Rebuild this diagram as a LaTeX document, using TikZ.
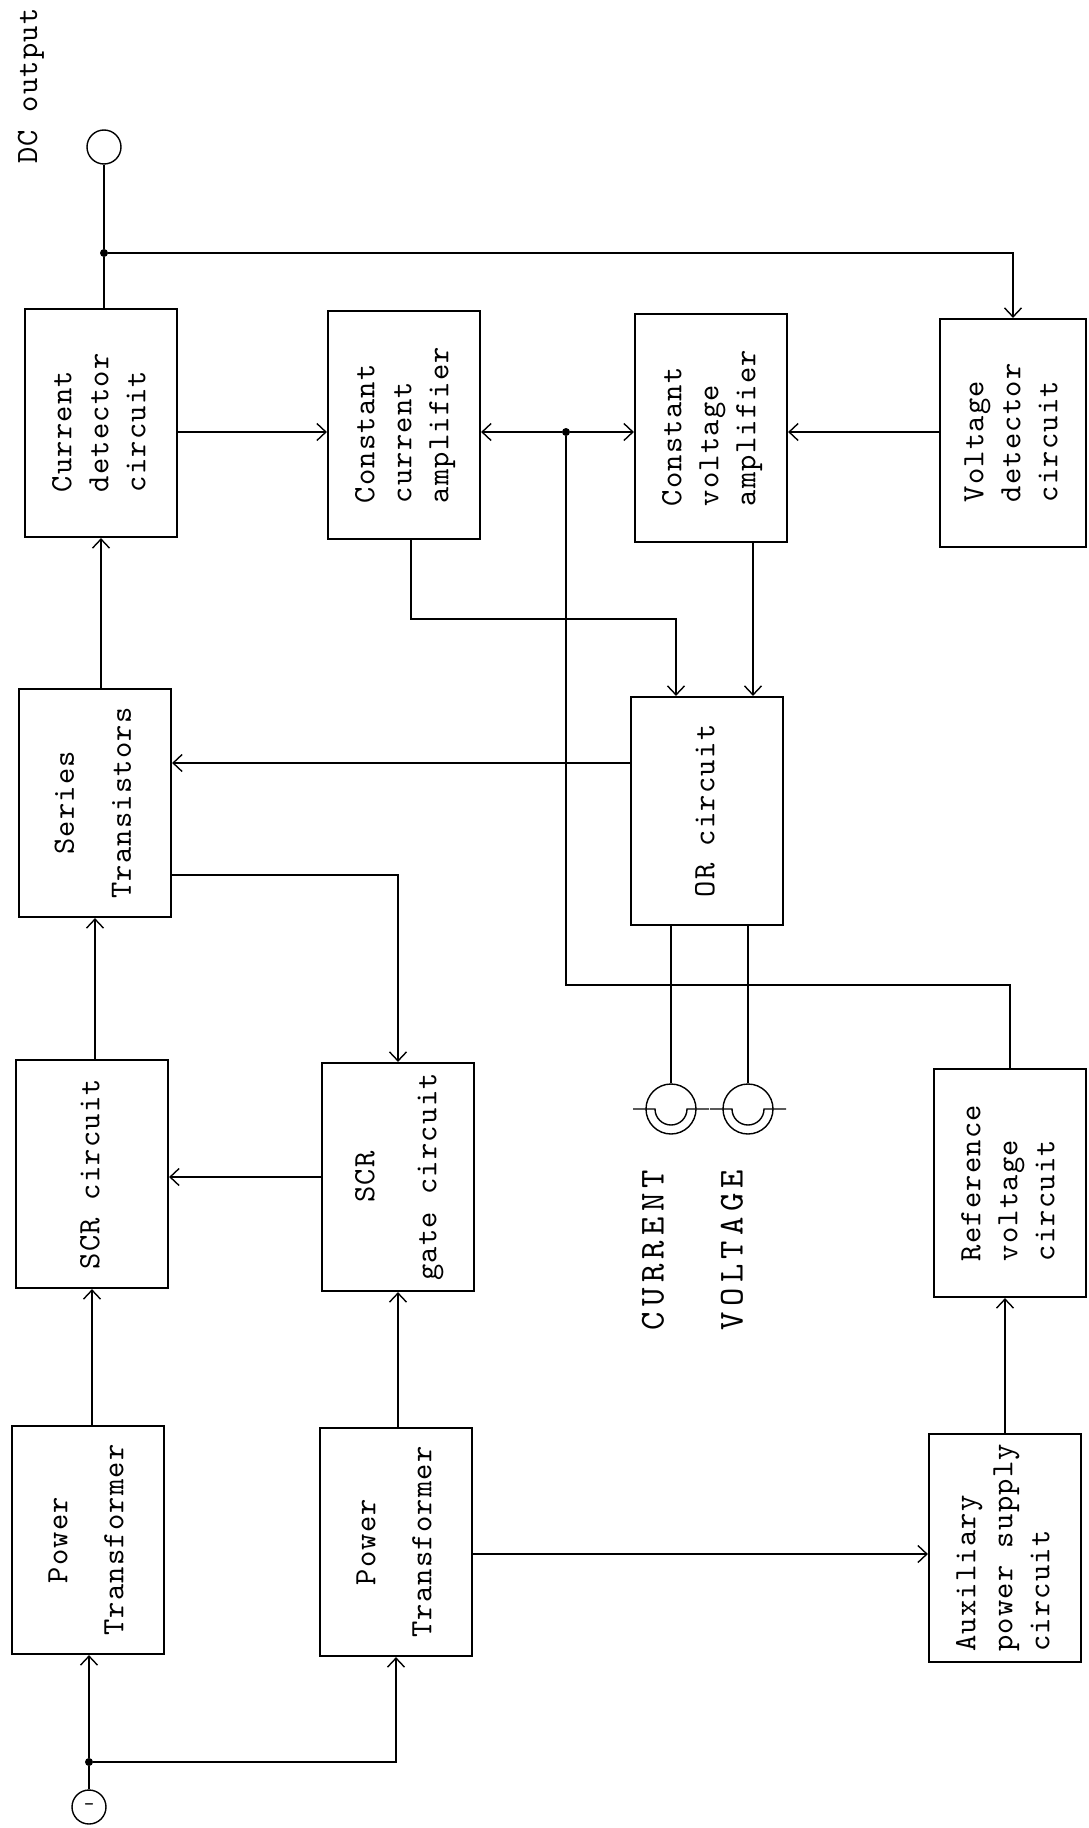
\documentclass[tikz,border=0pt]{standalone}
\usepackage{fontspec}
\usepackage{graphicx}
\usepackage{tikz}
\usetikzlibrary{arrows.meta,calc}
\newfontfamily\tw{lmmono10-regular.otf}[LetterSpace=4]
\newfontfamily\twwide{lmmono10-regular.otf}[LetterSpace=15]
\newcommand{\vtxt}[2][l]{\rotatebox{90}{\begin{tabular}{@{}#1@{}}#2\end{tabular}}}

\begin{document}
\begin{tikzpicture}[
  x=1pt,y=-1pt,
  box/.style={draw,line width=2.2pt,minimum width=152pt,minimum height=228pt,inner sep=0pt,font=\tw\fontsize{31}{37}\selectfont},
  arr/.style={-{Straight Barb[length=9pt,width=17pt]},line width=1.4pt},
  wire/.style={line width=1.4pt},
  term/.style={draw,circle,line width=1.4pt,minimum size=34pt,inner sep=0pt},
  meter/.style={draw,circle,line width=1.4pt,minimum size=50pt,inner sep=0pt},
  junc/.style={circle,fill,inner sep=0pt,minimum size=8pt},
  tag/.style={inner sep=0pt,font=\tw\fontsize{31}{34}\selectfont},
  mtag/.style={inner sep=0pt,font=\twwide\fontsize{35}{40}\selectfont}
]
\useasboundingbox (0,0) rectangle (1088,1828);
\node[tag] (dcl) at (31,86) {\rotatebox{90}{DC output}};
\node[term] (dco) at (104,147) {};
\node[junc] (j1) at (104,253) {};
\node[box] (cd) at (101,423) {\vtxt{Current\\detector\\circuit}};
\node[box] (cca) at (404,425) {\vtxt{Constant\\current\\amplifier}};
\node[box] (cva) at (711,428) {\vtxt{Constant\\voltage\\amplifier}};
\node[box,minimum width=146pt] (vd) at (1013,433) {\vtxt{Voltage\\detector\\circuit}};
\node[junc] (j2) at (566,432) {};
\node[box] (st) at (95,803) {\vtxt[c]{Series\\[20pt]Transistors}};
\node[box] (orc) at (707,811) {\vtxt{OR circuit}};
\node[box] (scr) at (92,1174) {\vtxt{SCR circuit}};
\node[box] (gate) at (398,1177) {\vtxt[c]{SCR\\[25pt]gate circuit}};
\node[box] (ref) at (1010,1183) {\vtxt{Reference\\voltage\\circuit}};
\node[meter] (mi) at (671,1109) {};
\node[meter] (mv) at (748,1109) {};
\node[mtag] (mil) at (653,1250) {\rotatebox{90}{CURRENT}};
\node[mtag] (mvl) at (732,1250) {\rotatebox{90}{VOLTAGE}};
\node[box] (pt1) at (88,1540) {\vtxt[c]{Power\\[19pt]Transformer}};
\node[box] (pt2) at (396,1542) {\vtxt[c]{Power\\[19pt]Transformer}};
\node[box] (aux) at (1005,1548) {\vtxt{Auxiliary\\power supply\\circuit}};
\node[junc] (j3) at (89,1762) {};
\node[term] (acin) at (89,1807) {\tw\fontsize{20}{20}\selectfont -};
\coordinate (oc) at ($(orc.north)+(-31,0)$);
\coordinate (ov) at ($(orc.north)+(46,0)$);
\coordinate (os) at ($(orc.west)+(0,-48)$);
\coordinate (sg) at ($(st.east)+(0,72)$);
\coordinate (pa) at ($(pt2.east)+(0,12)$);
\draw[wire] (dco) -- (j1); \draw[wire] (j1) -- (j1 |- cd.north);
\draw[arr] (j1) -| (vd.north);
\draw[arr] (cd.east |- j2) -- (cca.west |- j2);
\draw[arr] (j2) -- (cca.east |- j2); \draw[arr] (j2) -- (cva.west |- j2);
\draw[arr] (vd.west |- j2) -- (cva.east |- j2);
\draw[arr] ($(cca.south)+(7,0)$) -- ++(0,79) -| (oc);
\draw[arr] (cva.south -| ov) -- (ov);
\draw[arr] (os) -- (st.east |- os);
\draw[arr] (cd.south |- st.north) -- (cd.south);
\draw[arr] (sg) -| (gate.north);
\draw[arr] (scr.north -| st.south) -- (st.south);
\draw[arr] (gate.west) -- (gate.west -| scr.east);
\draw[wire] (ref.north) -- ++(0,-83) -| (j2);
\draw[wire] (mi.north |- orc.south) -- (mi.north); \draw[wire] (mv.north |- orc.south) -- (mv.north);
\foreach \m in {mi,mv} {
  \draw[wire] ($(\m.center)+(-38,0)$) -- ($(\m.center)+(-16,0)$) arc[start angle=180,end angle=0,radius=16] -- ($(\m.center)+(38,0)$);
}
\draw[arr] (pt1.north -| scr.south) -- (scr.south);
\draw[arr] (pt2.north -| gate.south) -- (gate.south);
\draw[arr] (pa) -- (aux.west |- pa);
\draw[arr] (aux.north) -- (aux.north |- ref.south);
\draw[wire] (acin) -- (j3);
\draw[arr] (j3) -- (j3 |- pt1.south); \draw[arr] (j3) -| (pt2.south);
\end{tikzpicture}
\end{document}
